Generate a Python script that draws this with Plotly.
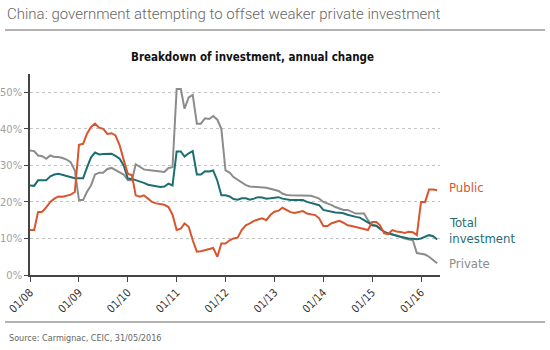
import pandas as pd
import plotly.graph_objects as go

# Monthly observations, Jan 2008 .. May 2016 (annual change, %)
dates = pd.date_range("2008-01-01", periods=101, freq="MS")

public = [12.3, 12.3, 17.2, 17.3, 18.5, 20.0, 20.9, 21.5, 21.4, 21.8,
          22.0, 22.7, 35.6, 35.9, 38.6, 40.5, 41.4, 40.3, 40.0, 38.6,
          38.8, 38.2, 35.5, 31.5, 27.7, 27.3, 21.8, 21.4, 21.8, 20.9,
          20.0, 19.6, 19.4, 19.2, 18.6, 16.5, 12.3, 12.7, 14.1, 13.2,
          9.5, 6.4, 6.5, 6.8, 7.0, 7.4, 5.0, 8.6, 8.6, 9.5,
          10.0, 10.2, 12.3, 13.6, 14.1, 14.8, 15.2, 15.5, 15.0, 16.4,
          17.3, 17.6, 18.4, 17.7, 17.2, 17.0, 17.3, 17.5, 16.8, 16.6,
          16.4, 15.5, 13.4, 13.4, 14.1, 14.5, 14.8, 14.3, 13.6, 13.4,
          13.2, 12.9, 12.6, 12.3, 14.5, 14.5, 13.6, 11.4, 11.2, 12.3,
          11.9, 11.8, 11.5, 11.8, 11.7, 10.9, 20.0, 20.0, 23.4, 23.4,
          23.2]

total = [24.5, 24.4, 25.9, 25.9, 25.9, 27.0, 27.5, 27.7, 27.4, 27.0,
         26.8, 26.5, 26.5, 26.5, 29.3, 32.2, 33.5, 33.0, 33.1, 33.1,
         33.2, 32.6, 31.8, 30.0, 26.4, 26.3, 26.0, 25.6, 25.2, 24.7,
         24.5, 24.3, 24.1, 24.2, 25.0, 24.5, 33.8, 33.8, 32.4, 33.3,
         33.9, 27.5, 27.5, 28.4, 28.3, 28.6, 25.8, 21.8, 21.8, 21.5,
         20.8, 20.6, 21.0, 21.0, 20.6, 20.9, 21.3, 21.2, 20.9, 21.0,
         21.2, 21.3, 20.9, 20.6, 20.5, 20.5, 20.5, 20.5, 20.0, 19.7,
         19.6, 19.1, 17.8, 17.5, 17.3, 17.1, 17.0, 16.9, 16.5, 16.1,
         15.9, 15.7, 15.0, 14.3, 13.7, 13.5, 12.7, 11.8, 11.4, 11.0,
         10.8, 10.5, 10.2, 10.0, 9.9, 9.8, 10.0, 10.5, 10.9, 10.6,
         9.7]

private = [34.1, 33.9, 32.7, 32.5, 31.8, 32.7, 32.3, 32.3, 32.0, 31.6,
           30.8, 28.6, 20.5, 20.5, 22.7, 24.5, 27.5, 28.0, 28.0, 29.0,
           29.3, 28.7, 28.0, 27.5, 26.0, 25.9, 30.3, 29.5, 28.9, 28.7,
           28.6, 28.4, 28.3, 28.2, 29.3, 29.5, 50.9, 50.9, 45.5, 48.6,
           49.3, 41.4, 41.4, 42.9, 42.7, 43.5, 42.5, 40.0, 28.6, 28.0,
           26.8, 26.0, 25.3, 24.6, 24.2, 24.1, 24.2, 24.1, 23.9, 23.6,
           23.3, 23.0, 22.3, 21.9, 21.8, 21.8, 21.8, 21.8, 21.8, 21.7,
           21.3, 20.9, 20.0, 19.6, 19.2, 18.6, 18.2, 17.8, 17.8, 17.2,
           16.8, 16.8, 16.8, 15.0, 13.6, 13.4, 12.7, 11.8, 11.4, 11.1,
           10.8, 10.4, 10.0, 9.7, 9.5, 6.0, 5.8, 5.6, 5.0, 4.0,
           3.2]

series_names = ["Public", "Total investment", "Private"]
label_lines = [["Public"], ["Total", "investment"], ["Private"]]
y_ticks = [0, 10, 20, 30, 40, 50]
y_ticktext = ["0%", "10%", "20%", "30%", "40%", "50%"]
x_tick_years = list(range(2008, 2017))

title = "China: government attempting to offset weaker private investment"
subtitle = "Breakdown of investment, annual change"
source = "Source: Carmignac, CEIC, 31/05/2016"

assert len(public) == len(total) == len(private) == len(dates)

RED = "#d9552e"
TEAL = "#1d6e72"
GREY = "#8c8c8c"
COND = "DejaVu Sans Condensed, Liberation Sans Narrow, sans-serif"

# plot-area geometry (pixels)
W, H = 550, 350
L, R, T, B = 30, 440, 74, 275


def px(x):
    return (x - L) / (R - L)


def py(y):
    return (B - y) / (B - T)


fig = go.Figure()
for vals, name, col in [(private, series_names[2], GREY), (total, series_names[1], TEAL), (public, series_names[0], RED)]:
    fig.add_trace(go.Scatter(x=dates, y=vals, mode="lines", name=name,
                             line=dict(color=col, width=2), showlegend=False))

tickvals = [pd.Timestamp(f"{y}-01-01") for y in x_tick_years]
ticktext = [f"01/{str(y)[2:]}" for y in x_tick_years]

fig.update_layout(
    width=W, height=H,
    margin=dict(l=L, r=W - R, t=T, b=H - B, pad=0, autoexpand=False),
    paper_bgcolor="white", plot_bgcolor="white",
    xaxis=dict(range=[pd.Timestamp("2008-01-01"), pd.Timestamp("2016-05-22")],
               tickmode="array", tickvals=tickvals, ticktext=ticktext, tickangle=-45,
               showgrid=False, zeroline=False, showline=True, linecolor="#444",
               linewidth=1.5, ticks="outside", ticklen=5, tickcolor="#444",
               automargin=False,
               tickfont=dict(family=COND, size=11, color="#333")),
    yaxis=dict(range=[0, 55], tickmode="array", tickvals=y_ticks, ticktext=y_ticktext,
               showgrid=True, gridcolor="#c4c4c4", griddash="dot", gridwidth=1,
               zeroline=False, showline=True, linecolor="#444", linewidth=1.5,
               ticks="outside", ticklen=4, tickcolor="#444", automargin=False,
               tickfont=dict(family=COND, size=11, color="#a0a0a0")),
    font=dict(family=COND),
)

ann = []
ann.append(dict(text=title, x=px(5), y=py(14), xref="paper", yref="paper",
                xanchor="left", yanchor="middle", showarrow=False,
                font=dict(family="Roboto, Liberation Sans, sans-serif", size=15, color="#666", weight=300)))
ann.append(dict(text=f"<b>{subtitle}</b>", x=px(252), y=py(57), xref="paper", yref="paper",
                xanchor="center", yanchor="middle", showarrow=False,
                font=dict(family=COND, size=11.5, color="#111")))
ann.append(dict(text=source, x=px(7), y=py(338), xref="paper", yref="paper",
                xanchor="left", yanchor="middle", showarrow=False,
                font=dict(family=COND, size=9, color="#666")))

label_pos = [(187, RED, label_lines[0]), (222, TEAL, label_lines[1]), (263, GREY, label_lines[2])]
for ypix, col, lines in label_pos:
    for i, ln in enumerate(lines):
        ann.append(dict(text=ln, x=px(447), y=py(ypix + 16 * i), xref="paper", yref="paper",
                        xanchor="left", yanchor="middle", showarrow=False,
                        font=dict(family=COND, size=13, color=col)))
fig.update_layout(annotations=ann)

fig.add_shape(type="line", xref="paper", yref="paper", x0=px(5), x1=px(545),
              y0=py(30), y1=py(30), line=dict(color="#9a9a9a", width=1.5))
fig.add_shape(type="line", xref="paper", yref="paper", x0=px(5), x1=px(545),
              y0=py(322), y1=py(322), line=dict(color="#9a9a9a", width=1.5))

fig.write_html("out.html")
